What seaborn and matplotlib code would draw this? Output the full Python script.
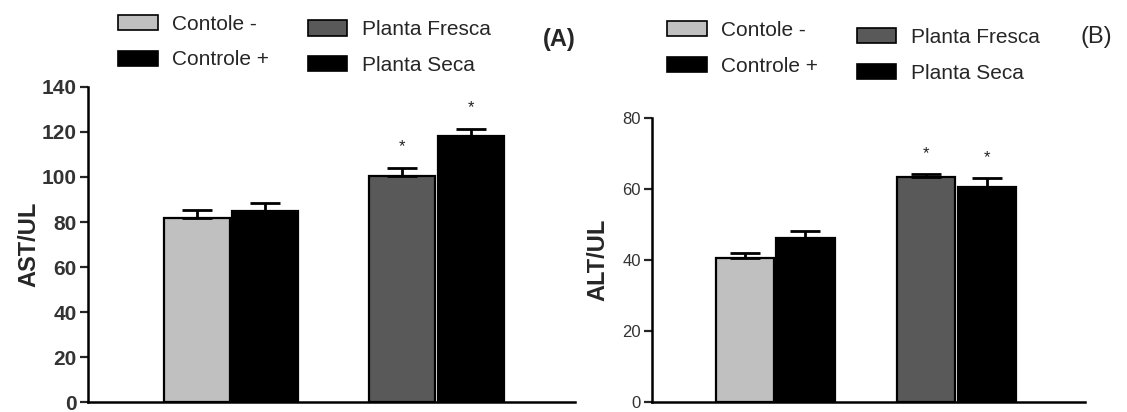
import matplotlib
matplotlib.use("Agg")
import matplotlib.pyplot as plt
from matplotlib.patches import Patch
import seaborn as sns
import pandas as pd

# data
groups = ["Contole -", "Controle +", "Planta Fresca", "Planta Seca"]
ast_mean = [81.7, 84.7, 100.3, 118.0]
ast_err = [3.5, 3.7, 3.8, 3.5]
alt_mean = [40.5, 46.3, 63.5, 60.6]
alt_err = [1.4, 1.9, 0.8, 2.7]
ast_sig = [False, False, True, True]
alt_sig = [False, False, True, True]

colors = {"Contole -": "#c0c0c0", "Controle +": "#000000",
          "Planta Fresca": "#595959", "Planta Seca": "#000000"}
# blank slot gives the gap between the two pairs
order = ["Contole -", "Controle +", " ", "Planta Fresca", "Planta Seca"]

sns.set_style("white")
plt.rcParams["font.family"] = ["Liberation Sans", "DejaVu Sans"]

fig = plt.figure(figsize=(11.27, 4.12), dpi=100)
ax_a = fig.add_axes([0.078, 0.024, 0.432, 0.765])
ax_b = fig.add_axes([0.5785, 0.024, 0.384, 0.689])


def draw_panel(ax, means, errs, sig, ylabel, ymax, step, xlim, tick_size, tick_weight,
               star_offset, labelpad):
    df = pd.DataFrame({"group": groups, "value": means})
    sns.barplot(data=df, x="group", y="value", hue="group", order=order,
                palette=colors, width=0.96, edgecolor="black", linewidth=1.6,
                errorbar=None, legend=False, ax=ax)
    pos = [order.index(g) for g in groups]
    ax.errorbar(pos, means, yerr=[[0] * len(errs), errs], fmt="none",
                ecolor="black", elinewidth=2, capsize=11, capthick=2, zorder=1)
    for p, m, e, s in zip(pos, means, errs, sig):
        if s:
            ax.annotate("*", xy=(p, m + e), xytext=(0, star_offset),
                        textcoords="offset points", ha="center", va="bottom",
                        fontsize=12, color="#222222")
    ax.set_ylim(0, ymax)
    ax.set_yticks(range(0, ymax + 1, step))
    ax.set_xlim(*xlim)
    ax.set_xlabel("")
    ax.set_ylabel(ylabel, fontsize=17, fontweight="bold", labelpad=labelpad)
    ax.tick_params(axis="x", bottom=False, labelbottom=False)
    ax.tick_params(axis="y", left=True, direction="out", length=6, width=1.6,
                   labelsize=tick_size, labelcolor="#333333", pad=2)
    for lab in ax.get_yticklabels():
        lab.set_fontweight(tick_weight)
    sns.despine(ax=ax)
    for sp in ["left", "bottom"]:
        ax.spines[sp].set_linewidth(1.8)
        ax.spines[sp].set_color("black")


draw_panel(ax_a, ast_mean, ast_err, ast_sig, "AST/UL", 140, 20, (-1.59, 5.52),
           15, "bold", 10, 1)
draw_panel(ax_b, alt_mean, alt_err, alt_sig, "ALT/UL", 80, 20, (-1.54, 5.62),
           12, "normal", 9, 9)


def add_legends(col1_xy, col2_xy):
    leg_kw = dict(loc="upper left", frameon=False, fontsize=15, handlelength=1.9,
                  handleheight=0.75, handletextpad=0.7, labelspacing=0.8,
                  borderpad=0, borderaxespad=0)
    h1 = [Patch(facecolor=colors[g], edgecolor="black", linewidth=1.2) for g in groups[:2]]
    h2 = [Patch(facecolor=colors[g], edgecolor="black", linewidth=1.2) for g in groups[2:]]
    fig.legend(h1, groups[:2], bbox_to_anchor=col1_xy, **leg_kw)
    fig.legend(h2, groups[2:], bbox_to_anchor=col2_xy, **leg_kw)


add_legends((0.1047, 0.964), (0.273, 0.951))
add_legends((0.592, 0.949), (0.760, 0.932))

fig.text(0.4815, 0.905, "(A)", fontsize=17, fontweight="bold", va="center")
fig.text(0.959, 0.91, "(B)", fontsize=17, va="center")

fig.savefig("out.png", dpi=100)
